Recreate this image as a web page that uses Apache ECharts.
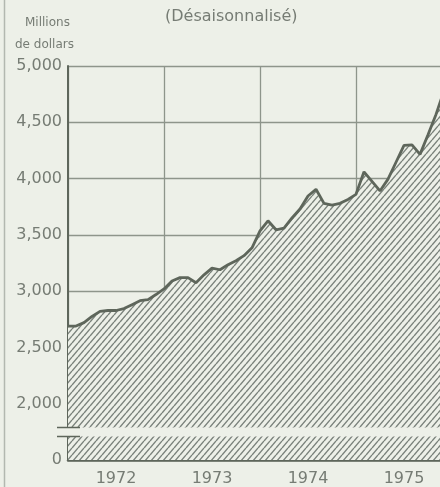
<!DOCTYPE html>
<html>
<head>
<meta charset="utf-8">
<script src="https://cdn.jsdelivr.net/npm/echarts@6/dist/echarts.min.js"></script>
<style>
  html, body { margin: 0; padding: 0; background: #edf0e8; overflow: hidden; width: 440px; height: 487px; }
  #chart { width: 452px; height: 487px; }
</style>
</head>
<body>
<div id="chart"></div>
<script>
// ---- Data (monthly, Jan 1972 onward) ----
const yearLabels = ['1972', '1973', '1974', '1975'];
const values = [
  2690, 2690, 2720, 2775, 2820, 2828, 2828, 2845, 2880, 2915, 2925, 2970,
  3020, 3090, 3120, 3120, 3075, 3145, 3205, 3190, 3235, 3270, 3315, 3385,
  3535, 3625, 3545, 3560, 3650, 3730, 3845, 3905, 3780, 3765, 3780, 3815,
  3860, 4060, 3975, 3890, 3995, 4145, 4295, 4300, 4215, 4390, 4570, 4780
];
const yTicks = [1500, 2000, 2500, 3000, 3500, 4000, 4500, 5000];
const yTickLabels = ['0', '2,000', '2,500', '3,000', '3,500', '4,000', '4,500', '5,000'];
const breakRange = [1712, 1791];   // axis break band (value units)

// ---- Styles ----
const BG = '#edf0e8';
const GRID = '#8e958b';
const DARK = '#5e665b';
const HATCH = '#79817a';
const TEXT = '#767c74';
const FONT = 'DejaVu Sans';

function makeHatch() {
  const w = 6, h = 7;
  const c = document.createElement('canvas');
  c.width = w; c.height = h;
  const g = c.getContext('2d');
  g.fillStyle = BG; g.fillRect(0, 0, w, h);
  g.strokeStyle = HATCH; g.lineWidth = 1.4;
  for (let k = -1; k <= 1; k++) {
    g.beginPath(); g.moveTo(k * w, h); g.lineTo(k * w + w, 0); g.stroke();
  }
  return c;
}

const seriesData = values.map((v, i) => [i, v]);

const chart = echarts.init(document.getElementById('chart'), null, { renderer: 'canvas' });
chart.setOption({
  backgroundColor: BG,
  animation: false,
  grid: { left: 68, top: 66, right: 0, bottom: 24, containLabel: false },
  xAxis: [
    {
      type: 'value', min: 0, max: 48, interval: 12,
      axisLine: { show: true, lineStyle: { color: DARK, width: 2.5 } },
      axisTick: { show: false },
      axisLabel: { show: false },
      splitLine: { show: true, lineStyle: { color: GRID, width: 1.3 } }
    },
    {
      type: 'category', data: yearLabels, boundaryGap: true, position: 'bottom',
      axisLine: { show: false }, axisTick: { show: false },
      splitLine: { show: false },
      axisLabel: { color: TEXT, fontFamily: FONT, fontSize: 16, margin: 11 }
    }
  ],
  yAxis: {
    type: 'value', min: 1500, max: 5000, interval: 500,
    axisLine: { show: true, lineStyle: { color: DARK, width: 2 } },
    axisTick: { show: false },
    axisLabel: {
      color: TEXT, fontFamily: FONT, fontSize: 16, margin: 6,
      formatter: v => { const i = yTicks.indexOf(v); return i >= 0 ? yTickLabels[i] : ''; }
    },
    splitLine: { show: true, lineStyle: { color: GRID, width: 1.3 } }
  },
  series: [{
    type: 'line',
    xAxisIndex: 0,
    data: seriesData,
    symbol: 'none',
    lineStyle: { color: DARK, width: 2.8 },
    areaStyle: { color: { image: makeHatch(), repeat: 'repeat' }, opacity: 1 },
    z: 1
  }],
  graphic: []
});

// Axis break band and labels
const pTop = chart.convertToPixel({ gridIndex: 0 }, [0, breakRange[1]]);
const pBot = chart.convertToPixel({ gridIndex: 0 }, [0, breakRange[0]]);
const yT = Math.round(pTop[1]) + 0.5, yB = Math.round(pBot[1]) + 0.5;
chart.setOption({
  graphic: [
    { type: 'rect', z: 100, shape: { x: 67, y: yT, width: 400, height: yB - yT }, style: { fill: BG } },
    { type: 'line', z: 101, shape: { x1: 57, y1: yT, x2: 80, y2: yT }, style: { stroke: DARK, lineWidth: 1.5 } },
    { type: 'line', z: 101, shape: { x1: 57, y1: yB, x2: 80, y2: yB }, style: { stroke: DARK, lineWidth: 1.5 } },
    { type: 'line', z: 101, shape: { x1: 4.5, y1: 0, x2: 4.5, y2: 487 }, style: { stroke: '#b3b8b0', lineWidth: 1.5 } },
    { type: 'text', z: 101, left: 25, top: 17, style: { text: 'Millions', fill: TEXT, font: '12px "DejaVu Sans"' } },
    { type: 'text', z: 101, left: 15, top: 39, style: { text: 'de dollars', fill: TEXT, font: '12px "DejaVu Sans"' } },
    { type: 'text', z: 101, left: 165, top: 9, style: { text: '(Désaisonnalisé)', fill: TEXT, font: '16px "DejaVu Sans"' } }
  ]
});
</script>
</body>
</html>
